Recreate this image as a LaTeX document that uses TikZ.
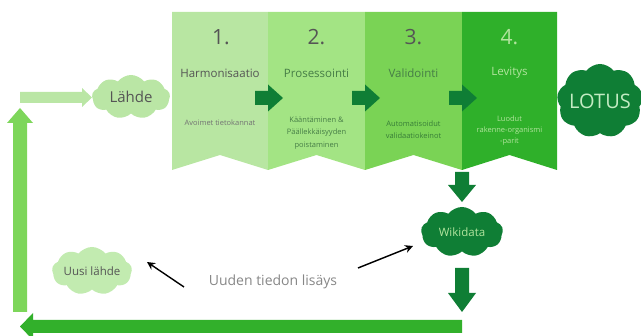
\documentclass[tikz,border=0pt]{standalone}
\usepackage{fontspec}
\setmainfont{Open Sans}
\usetikzlibrary{shapes.symbols,arrows.meta}
\definecolor{pone}{RGB}{184,230,162}
\definecolor{ptwo}{RGB}{163,228,132}
\definecolor{pthree}{RGB}{122,211,85}
\definecolor{pfour}{RGB}{47,176,42}
\definecolor{darkg}{RGB}{15,126,53}
\definecolor{lightcl}{RGB}{186,230,165}
\definecolor{uusicl}{RGB}{194,235,176}
\definecolor{vertg}{RGB}{125,214,90}
\definecolor{botg}{RGB}{50,176,43}
\definecolor{tgray}{RGB}{85,85,85}
\definecolor{tgray2}{RGB}{115,115,115}
\definecolor{tgreen}{RGB}{70,125,70}
\definecolor{tgreen3}{RGB}{55,125,55}
\definecolor{tpale}{RGB}{178,228,158}
\definecolor{tlight}{RGB}{195,235,195}
\definecolor{tmid}{RGB}{135,135,135}
\tikzset{
  cloudnode/.style={cloud, cloud puffs=9, cloud puff arc=105, cloud ignores aspect,
    inner sep=0pt, draw=none},
  numtxt/.style={font=\fontsize{21}{23}\selectfont},
  titletxt/.style={font=\fontsize{11.5}{13}\selectfont},
  subtxt/.style={font=\fontsize{7.5}{12.5}\selectfont, align=center},
  blk/.style={draw=black, line width=1.4pt, -{Stealth[length=8pt,width=8pt]}},
}
\begin{document}
\begin{tikzpicture}[x=1pt,y=-1pt]
\useasboundingbox (0,0) rectangle (641,336);

% panels
\fill[pone]   (172,12) -- (268,12) -- (268,170) -- (220,155) -- (172,170) -- cycle;
\fill[ptwo]   (268,12) -- (365,12) -- (365,170) -- (316.5,155) -- (268,170) -- cycle;
\fill[pthree] (365,12) -- (462,12) -- (462,170) -- (413.5,155) -- (365,170) -- cycle;
\fill[pfour]  (462,12) -- (557,12) -- (557,170) -- (509.5,155) -- (462,170) -- cycle;

% panel texts
\node[numtxt, text=tgray] (n1) at (221,37) {1.};
\node[numtxt, text=tgray] (n2) at (316.5,37) {2.};
\node[numtxt, text=tgray] (n3) at (413.5,37) {3.};
\node[numtxt, text=tpale] (n4) at (509.5,37) {4.};
\node[titletxt, text=tgray] (t1) at (220,73) {Harmonisaatio};
\node[titletxt, text=tgreen] (t2) at (316.5,73) {Prosessointi};
\node[titletxt, text=tgreen] (t3) at (413.5,73) {Validointi};
\node[titletxt, text=tpale] (t4) at (509.5,73) {Levitys};
\node[subtxt, text=tgray2] (s1) at (220,123) {Avoimet tietokannat};
\node[subtxt, text=tgreen] (s2) at (316.5,133) {Kääntäminen \&\\Päällekkäisyyden\\poistaminen};
\node[subtxt, text=tgreen3] (s3) at (413.5,129.5) {Automatisoidut\\validaatiokeinot};
\node[subtxt, text=tpale, font=\fontsize{7.5}{11}\selectfont] (s4) at (509.5,131) {Luodut\\rakenne-organismi\\-parit};

% arrows between panels
\foreach \j in {268,365,462}{
  \fill[darkg] (\j-13,91) -- (\j,91) -- (\j,84.5) -- (\j+15,98) -- (\j,111.5) -- (\j,105) -- (\j-13,105) -- cycle;
}

% clouds
\node[cloudnode, fill=lightcl, minimum width=78pt, minimum height=44pt,
      text=tgray, font=\fontsize{15}{17}\selectfont] (lahde) at (131,97) {Lähde};
\node[cloudnode, fill=darkg, minimum width=86pt, minimum height=74pt,
      text=tlight, font=\fontsize{20}{22}\selectfont] (lotus) at (600,101) {LOTUS};
\node[cloudnode, fill=darkg, minimum width=82pt, minimum height=50pt,
      text=tpale, font=\fontsize{11.5}{13}\selectfont] (wiki) at (462,232) {Wikidata};
\node[cloudnode, fill=uusicl, minimum width=80pt, minimum height=48pt,
      text=tgray, font=\fontsize{11.5}{13}\selectfont] (uusi) at (92,271) {Uusi lähde};

% block arrows
\fill[lightcl] (20,92) -- (82,92) -- (82,88) -- (92,97.5) -- (82,107) -- (82,103) -- (20,103) -- cycle;
\fill[vertg] (13,312) -- (13,123) -- (7,123) -- (20,108) -- (33,123) -- (27,123) -- (27,312) -- cycle;
\fill[botg] (462,320) -- (33,320) -- (33,313) -- (20,326.5) -- (33,340) -- (33,333) -- (462,333) -- cycle;
\fill[darkg] (455,172) -- (469,172) -- (469,185) -- (476,185) -- (462,202) -- (448,185) -- (455,185) -- cycle;
\fill[darkg] (455,268) -- (469,268) -- (469,293) -- (476,293) -- (462,312) -- (448,293) -- (455,293) -- cycle;

% label and black arrows
\node[text=tmid, font=\fontsize{14}{16}\selectfont] (lisays) at (273,282) {Uuden tiedon lisäys};
\coordinate (la) at (184,287);
\coordinate (lb) at (147,262);
\coordinate (ra) at (358,268);
\coordinate (rb) at (413,246);
\draw[blk] (la) -- (lb);
\draw[blk] (ra) -- (rb);
\end{tikzpicture}
\end{document}
